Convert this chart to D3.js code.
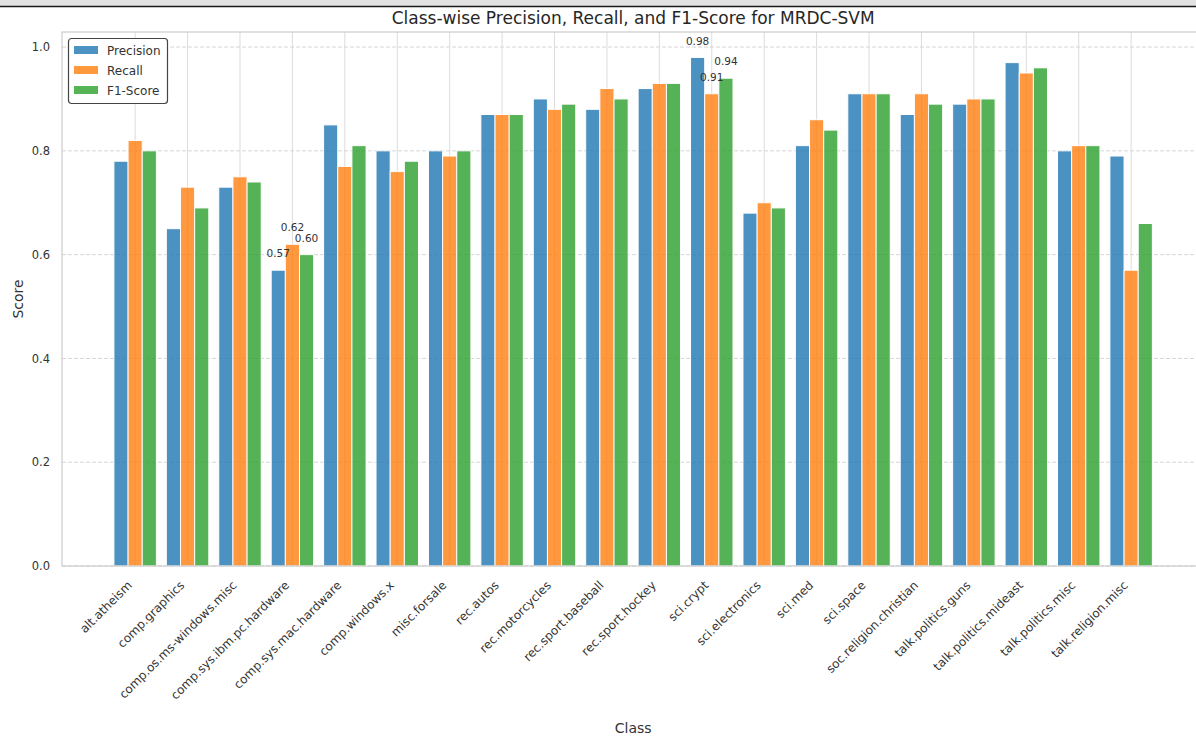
<!DOCTYPE html>
<html>
<head>
<meta charset="utf-8">
<script src="https://cdn.jsdelivr.net/npm/d3@7"></script>
<style>
  html, body { margin: 0; padding: 0; background: #fff; }
  svg { display: block; font-family: "DejaVu Sans", sans-serif; }
</style>
</head>
<body>
<svg id="chart" width="1196" height="738"></svg>
<script>
// Per-class scores for the MRDC-SVM classifier
const classes = [
  "alt.atheism", "comp.graphics", "comp.os.ms-windows.misc", "comp.sys.ibm.pc.hardware",
  "comp.sys.mac.hardware", "comp.windows.x", "misc.forsale", "rec.autos",
  "rec.motorcycles", "rec.sport.baseball", "rec.sport.hockey", "sci.crypt",
  "sci.electronics", "sci.med", "sci.space", "soc.religion.christian",
  "talk.politics.guns", "talk.politics.mideast", "talk.politics.misc", "talk.religion.misc"
];
const precision = [0.78, 0.65, 0.73, 0.57, 0.85, 0.80, 0.80, 0.87, 0.90, 0.88,
                   0.92, 0.98, 0.68, 0.81, 0.91, 0.87, 0.89, 0.97, 0.80, 0.79];
const recall    = [0.82, 0.73, 0.75, 0.62, 0.77, 0.76, 0.79, 0.87, 0.88, 0.92,
                   0.93, 0.91, 0.70, 0.86, 0.91, 0.91, 0.90, 0.95, 0.81, 0.57];
const f1        = [0.80, 0.69, 0.74, 0.60, 0.81, 0.78, 0.80, 0.87, 0.89, 0.90,
                   0.93, 0.94, 0.69, 0.84, 0.91, 0.89, 0.90, 0.96, 0.81, 0.66];
const seriesNames = ["Precision", "Recall", "F1-Score"];
const yTicks = [0.0, 0.2, 0.4, 0.6, 0.8, 1.0];
// Classes whose bars carry value labels
const annotated = ["comp.sys.ibm.pc.hardware", "sci.crypt"];

const series = [
  { name: seriesNames[0], values: precision, color: "#1f77b4" },
  { name: seriesNames[1], values: recall,    color: "#ff7f0e" },
  { name: seriesNames[2], values: f1,        color: "#2ca02c" }
];

const svg = d3.select("#chart");
const W = 1196, H = 738;

// window strip along the top
svg.append("rect").attr("x", 0).attr("y", 0).attr("width", W).attr("height", 6).attr("fill", "#e2e2e2");
svg.append("line").attr("x1", 0).attr("x2", W).attr("y1", 6.5).attr("y2", 6.5)
  .attr("stroke", "#1a1a1a").attr("stroke-width", 1.5);

const barW = 0.27;
const n = classes.length;
const span = (n - 1) + 3 * barW;
const pad = span * 0.05;
const xMin = -1.5 * barW - pad, xMax = (n - 1) + 1.5 * barW + pad;
const plot = { left: 62, top: 32, bottom: 566 };
const unit = 52.42;
const x = d3.scaleLinear().domain([xMin, xMax]).range([plot.left, plot.left + (xMax - xMin) * unit]);
const yMax = d3.max([...precision, ...recall, ...f1]) * 1.05;
const y = d3.scaleLinear().domain([0, yMax]).range([plot.bottom, plot.top]);
const plotRight = x(xMax);

const g = svg.append("g");

// vertical grid at each class
g.append("g").selectAll("line").data(d3.range(n)).join("line")
  .attr("x1", d => x(d)).attr("x2", d => x(d))
  .attr("y1", plot.top).attr("y2", plot.bottom)
  .attr("stroke", "#dcdcdc").attr("stroke-width", 1);

// dashed horizontal grid
g.append("g").selectAll("line").data(yTicks).join("line")
  .attr("x1", plot.left).attr("x2", plotRight)
  .attr("y1", d => y(d)).attr("y2", d => y(d))
  .attr("stroke", "#d6d6d6").attr("stroke-width", 1)
  .attr("stroke-dasharray", "4,2");

// bars
series.forEach((s, si) => {
  const off = (si - 1) * barW;
  g.append("g").attr("opacity", 0.8).selectAll("rect").data(s.values).join("rect")
    .attr("x", (d, i) => x(i + off - barW / 2))
    .attr("width", x(barW) - x(0))
    .attr("y", d => y(d))
    .attr("height", d => y(0) - y(d))
    .attr("fill", s.color)
    .attr("stroke", "#ffffff").attr("stroke-width", 1);
});

// value labels on selected classes
series.forEach((s, si) => {
  const off = (si - 1) * barW;
  annotated.forEach(name => {
    const i = classes.indexOf(name);
    const v = s.values[i];
    g.append("text")
      .attr("x", x(i + off))
      .attr("y", y(v + 0.02) - 2.5)
      .attr("text-anchor", "middle")
      .attr("font-size", 10.5)
      .attr("fill", "#333")
      .text(v.toFixed(2));
  });
});

// frame
g.append("rect").attr("x", plot.left).attr("y", plot.top)
  .attr("width", plotRight - plot.left).attr("height", plot.bottom - plot.top)
  .attr("fill", "none").attr("stroke", "#cccccc").attr("stroke-width", 1.2);

// y axis
const yAxis = d3.axisLeft(y).tickValues(yTicks).tickFormat(d3.format(".1f")).tickSize(0).tickPadding(12);
const ya = svg.append("g").attr("transform", `translate(${plot.left},0)`).call(yAxis);
ya.select(".domain").remove();
ya.selectAll("text").attr("font-size", 11.5).attr("fill", "#333").attr("font-family", "DejaVu Sans, sans-serif");

// x axis with rotated labels
const xAxis = d3.axisBottom(x).tickValues(d3.range(n)).tickFormat(i => classes[i]).tickSize(0);
const xa = svg.append("g").attr("transform", `translate(0,${plot.bottom})`).call(xAxis);
xa.select(".domain").remove();
xa.selectAll("text")
  .attr("font-size", 12).attr("fill", "#333").attr("font-family", "DejaVu Sans, sans-serif")
  .attr("text-anchor", "end")
  .attr("dy", null).attr("y", null)
  .attr("transform", "translate(-3,20) rotate(-45)");

// titles
svg.append("text").attr("x", (plot.left + plotRight) / 2).attr("y", 23.5)
  .attr("text-anchor", "middle").attr("font-size", 17).attr("fill", "#262626")
  .text("Class-wise Precision, Recall, and F1-Score for MRDC-SVM");
svg.append("text").attr("x", (plot.left + plotRight) / 2).attr("y", 733)
  .attr("text-anchor", "middle").attr("font-size", 14).attr("fill", "#333")
  .text("Class");
svg.append("text").attr("transform", `translate(23,${(plot.top + plot.bottom) / 2}) rotate(-90)`)
  .attr("text-anchor", "middle").attr("font-size", 14).attr("fill", "#333")
  .text("Score");

// legend
const lg = svg.append("g").attr("transform", "translate(68,38)");
lg.append("rect").attr("x", 0.5).attr("y", 0.5).attr("width", 99).attr("height", 65).attr("rx", 3)
  .attr("fill", "#fff").attr("stroke", "#444").attr("stroke-width", 1.2);
series.forEach((s, si) => {
  const row = lg.append("g").attr("transform", `translate(0,${12 + si * 20})`);
  row.append("rect").attr("x", 6).attr("y", -4).attr("width", 24).attr("height", 8)
    .attr("fill", s.color).attr("opacity", 0.8);
  row.append("text").attr("x", 39).attr("y", 4.5).attr("font-size", 12).attr("fill", "#333")
    .text(s.name);
});
</script>
</body>
</html>
